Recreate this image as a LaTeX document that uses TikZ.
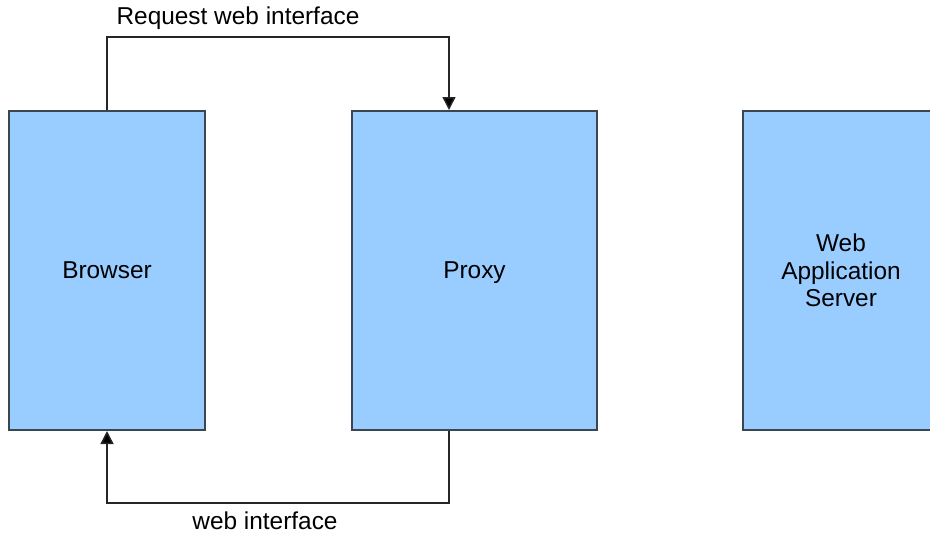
\documentclass[tikz,border=0pt]{standalone}
\usepackage{fontspec}
\setmainfont{Liberation Sans}
\usetikzlibrary{arrows.meta,positioning}
\definecolor{boxfill}{HTML}{99CCFF}
\definecolor{boxline}{HTML}{3C4650}
\tikzstyle{block} = [rectangle, draw=boxline, line width=1pt, fill=boxfill, minimum height=159.5pt, align=center, font=\fontsize{12.2}{13.8}\selectfont]
\tikzstyle{arrow} = [line width=0.75pt, draw=black!85, -{Triangle[length=6.5pt,width=6.5pt,fill=black]}]
\tikzstyle{label} = [font=\fontsize{12.2}{13.8}\selectfont, inner sep=0pt]

\begin{document}
\begin{tikzpicture}[x=0.5pt,y=-0.5pt]
\useasboundingbox (0,0) rectangle (930,536);
\begin{scope}
\clip (0,0) rectangle (930,536);
            \node (browser) [block, minimum width=98pt] at (107,270.5) {Browser};
            \node (proxy) [block, minimum width=122.5pt, text depth=0pt] at (474.5,270.5) {Proxy};
            \node (server) [block, minimum width=98pt] at (841,270.5) {Web\\Application\\Server};
\end{scope}

            \coordinate (reqin) at ([xshift=49pt] proxy.north west);
            \coordinate (resout) at ([xshift=49pt] proxy.south west);

            \draw[arrow] (browser.north) -- ++(0,-73) -| (reqin);
            \draw[arrow] (resout) -- ++(0,72) -| (browser.south);

            \node (reqtext) [label] at (238,18) {Request web interface};
            \node (restext) [label] at (265,521) {web interface};
\end{tikzpicture}
\end{document}
